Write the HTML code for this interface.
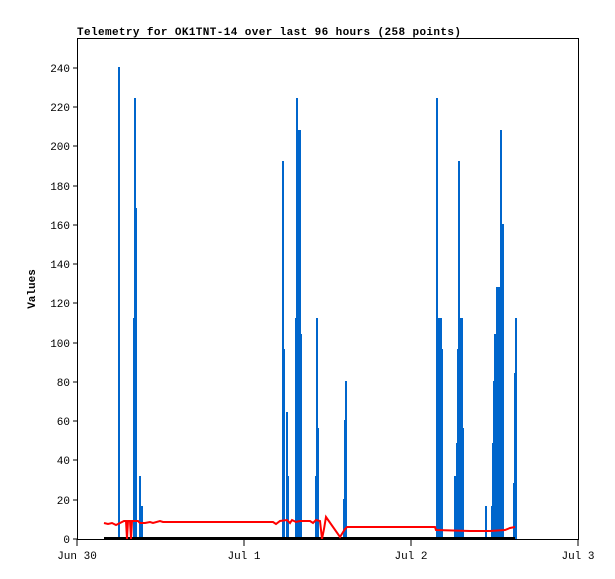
<!DOCTYPE html>
<html><head><style>body{margin:0;background:#fff}</style></head><body>
<svg width="615" height="579" xmlns="http://www.w3.org/2000/svg" style="display:block;font-family:'Liberation Mono',monospace">
<rect width="615" height="579" fill="#fff"/>
<text x="77" y="35" font-size="11" font-weight="bold" textLength="384" lengthAdjust="spacing">Telemetry for OK1TNT-14 over last 96 hours (258 points)</text>
<text transform="translate(35,289) rotate(-90)" text-anchor="middle" font-size="11" font-weight="bold">Values</text>
<g fill="#0066cc">
<rect x="118" y="67" width="2" height="472"/>
<rect x="134" y="98" width="2" height="441"/>
<rect x="135" y="208" width="2" height="331"/>
<rect x="133" y="318" width="1" height="221"/>
<rect x="136" y="428" width="1" height="111"/>
<rect x="139" y="476" width="2" height="63"/>
<rect x="140" y="506" width="3" height="33"/>
<rect x="282" y="161" width="2" height="378"/>
<rect x="284" y="349" width="1" height="190"/>
<rect x="286" y="412" width="2" height="127"/>
<rect x="288" y="476" width="1" height="63"/>
<rect x="295" y="318" width="2" height="221"/>
<rect x="296" y="98" width="2" height="441"/>
<rect x="298" y="130" width="3" height="409"/>
<rect x="300" y="334" width="2" height="205"/>
<rect x="315" y="476" width="2" height="63"/>
<rect x="316" y="318" width="2" height="221"/>
<rect x="318" y="428" width="1" height="111"/>
<rect x="343" y="499" width="2" height="40"/>
<rect x="344" y="420" width="2" height="119"/>
<rect x="345" y="381" width="2" height="158"/>
<rect x="436" y="98" width="2" height="441"/>
<rect x="438" y="318" width="2" height="221"/>
<rect x="439" y="428" width="2" height="111"/>
<rect x="440" y="318" width="2" height="221"/>
<rect x="441" y="349" width="2" height="190"/>
<rect x="454" y="476" width="2" height="63"/>
<rect x="456" y="443" width="2" height="96"/>
<rect x="457" y="349" width="2" height="190"/>
<rect x="458" y="161" width="2" height="378"/>
<rect x="460" y="318" width="3" height="221"/>
<rect x="462" y="428" width="2" height="111"/>
<rect x="485" y="506" width="2" height="33"/>
<rect x="491" y="506" width="2" height="33"/>
<rect x="492" y="443" width="2" height="96"/>
<rect x="493" y="381" width="2" height="158"/>
<rect x="494" y="334" width="2" height="205"/>
<rect x="496" y="287" width="4" height="252"/>
<rect x="500" y="130" width="2" height="409"/>
<rect x="502" y="224" width="2" height="315"/>
<rect x="513" y="483" width="2" height="56"/>
<rect x="514" y="373" width="2" height="166"/>
<rect x="515" y="318" width="2" height="221"/>
</g>
<line x1="104" y1="538" x2="515" y2="538" stroke="#000" stroke-width="2"/>
<polyline fill="none" stroke="#ff0000" stroke-width="2" points="104,523 108,524 112,523 116,525 120,523 124,521 126,521 127,539 128,521 130,521 131,539 132,521 138,521 140,523 145,523 150,522 153,523 160,521 163,522 273,522 276,524 280,521 287,520 290,523 292,520 296,522 300,521 310,521 313,523 316,520 320,521 322,539 324,529 326,517 340,537 345,529 347,527 435,527 436,530 470,531 490,531 505,530 510,528 515,527"/>
<rect x="77.5" y="38.5" width="501" height="501" fill="none" stroke="#000"/>
<g stroke="#000">
<line x1="77" y1="539" x2="77" y2="546"/><line x1="244" y1="539" x2="244" y2="546"/><line x1="411" y1="539" x2="411" y2="546"/><line x1="578" y1="539" x2="578" y2="546"/>
<line x1="73" y1="539" x2="77" y2="539"/><line x1="73" y1="500" x2="77" y2="500"/><line x1="73" y1="460" x2="77" y2="460"/><line x1="73" y1="421" x2="77" y2="421"/><line x1="73" y1="382" x2="77" y2="382"/><line x1="73" y1="343" x2="77" y2="343"/><line x1="73" y1="303" x2="77" y2="303"/><line x1="73" y1="264" x2="77" y2="264"/><line x1="73" y1="225" x2="77" y2="225"/><line x1="73" y1="186" x2="77" y2="186"/><line x1="73" y1="146" x2="77" y2="146"/><line x1="73" y1="107" x2="77" y2="107"/><line x1="73" y1="68" x2="77" y2="68"/>
</g>
<g font-size="11" text-anchor="middle">
<text x="77" y="559">Jun 30</text><text x="244" y="559">Jul 1</text><text x="411" y="559">Jul 2</text><text x="578" y="559">Jul 3</text>
</g>
<g font-size="11" text-anchor="end">
<text x="70" y="543">0</text><text x="70" y="504">20</text><text x="70" y="464">40</text><text x="70" y="425">60</text><text x="70" y="386">80</text><text x="70" y="347">100</text><text x="70" y="307">120</text><text x="70" y="268">140</text><text x="70" y="229">160</text><text x="70" y="190">180</text><text x="70" y="150">200</text><text x="70" y="111">220</text><text x="70" y="72">240</text>
</g>
</svg>
</body></html>
